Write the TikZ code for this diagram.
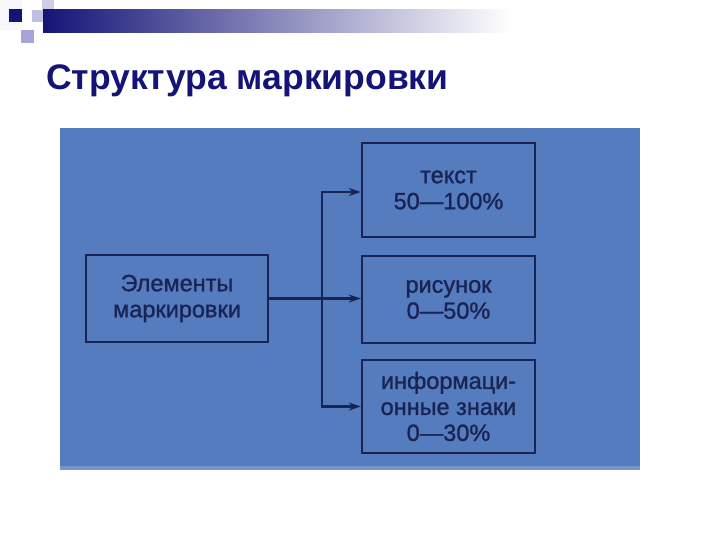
\documentclass[tikz,border=0pt]{standalone}
\usepackage{fontspec}
\setmainfont{Liberation Sans}
\newfontfamily\boxfont{Liberation Sans}[FakeBold=1.2]
\usetikzlibrary{arrows.meta}
\definecolor{navy}{RGB}{20,20,120}
\definecolor{photo}{RGB}{84,124,190}
\definecolor{ink}{RGB}{26,36,84}
\definecolor{lav}{RGB}{165,165,215}
\definecolor{pale}{RGB}{205,205,232}
\tikzset{
  box/.style={draw=ink, line width=2.4pt, inner sep=0pt, text=ink, align=center,
    font=\boxfont\fontsize{23.5}{26}\selectfont},
  conn/.style={draw=ink, line width=2.6pt},
  arr/.style={conn, -{Stealth[length=12pt,width=8pt]}}
}
\begin{document}
\begin{tikzpicture}[x=1pt,y=-1pt]
\useasboundingbox (0,0) rectangle (720,540);
% header decoration
\fill[white!92!lav] (0,0) rectangle (22,30);
\fill[pale] (42,0) rectangle (54,20);
\fill[lav] (21,30) rectangle (34,43);
\shade[left color=navy, right color=white] (43,10) rectangle (510,33);
\fill[lav!70!white] (32,10) rectangle (43,22);
\fill[navy] (9,9) rectangle (22,22);
% title
\node[anchor=base west, inner sep=0pt, text=navy, font=\fontsize{35.5}{40}\bfseries\selectfont] (title) at (46,90) {Структура маркировки};
% photo background
\fill[photo] (60,128) rectangle (640,470);
\fill[photo!80!white] (60,466) rectangle (640,470);
% nodes
\node[box, minimum width=182pt, minimum height=87pt] (el) at (177,298.5) {Элементы\\маркировки};
\node[box, minimum width=173pt, minimum height=94pt] (t) at (448.5,190) {текст\\50—100\%};
\node[box, minimum width=173pt, minimum height=87pt] (r) at (448.5,299.5) {рисунок\\0—50\%};
\node[box, minimum width=173pt, minimum height=93pt] (i) at (448.5,406.5) {информаци-\\онные знаки\\0—30\%};
% connectors
\coordinate (j) at (322,298.5);
\draw[arr] (el.east) -- (el.east -| r.west);
\draw[arr] (j) |- ([yshift=-2pt]t.west);
\draw[arr] (j) |- (i.west);
\end{tikzpicture}
\end{document}
